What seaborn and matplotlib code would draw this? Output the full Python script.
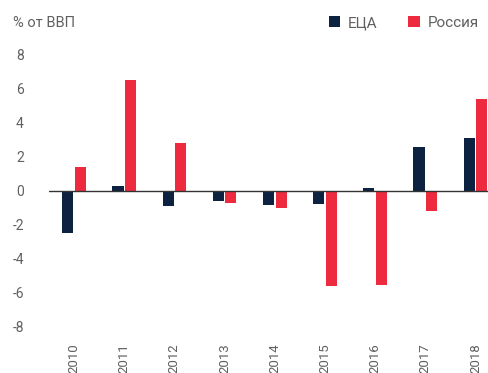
import matplotlib
matplotlib.use("Agg")
import matplotlib.pyplot as plt
from matplotlib.patches import Patch
import seaborn as sns
import pandas as pd

years = ["2010", "2011", "2012", "2013", "2014", "2015", "2016", "2017", "2018"]
eca = [-2.5, 0.25, -0.9, -0.6, -0.85, -0.8, 0.12, 2.55, 3.1]
russia = [1.4, 6.5, 2.8, -0.75, -1.05, -5.65, -5.55, -1.2, 5.4]
series = ["ЕЦА", "Россия"]
colors = ["#0c2240", "#ee2b3e"]
y_ticks = [-8, -6, -4, -2, 0, 2, 4, 6, 8]

df = pd.DataFrame({
    "year": years * 2,
    "value": eca + russia,
    "series": [series[0]] * len(years) + [series[1]] * len(years),
})

sns.set_theme(style="white")
plt.rcParams["font.family"] = ["Roboto", "DejaVu Sans"]
text_color = "#606060"

fig = plt.figure(figsize=(4.88, 3.73), dpi=100)
ax = fig.add_axes([49 / 488, (373 - 326) / 373, 439 / 488, 271 / 373])

sns.barplot(data=df, x="year", y="value", hue="series", order=years,
            hue_order=series, palette=colors, saturation=1, width=0.5, gap=0.12,
            linewidth=0, legend=False, ax=ax)

ax.axhline(0, color="#333333", lw=1, zorder=3)
ax.set_xlim(-0.5, 8.25)
ax.set_ylim(-8, 8)
ax.set_yticks(y_ticks)
ax.set_yticklabels([str(t) for t in y_ticks])
ax.set_xticks(range(len(years)))
ax.set_xticklabels(years, rotation=90, va="top", ha="center")
ax.set_xlabel("")
ax.set_ylabel("")
for s in ax.spines.values():
    s.set_visible(False)
ax.tick_params(axis="y", length=0, pad=18, labelsize=10, labelcolor=text_color)
ax.tick_params(axis="x", length=0, pad=12.5, labelsize=9.5, labelcolor=text_color)

fig.text(13 / 488, 1 - 23 / 373, "% от ВВП", fontsize=10.5, color=text_color,
         ha="left", va="center")

handles = [Patch(facecolor=c, edgecolor="none", label=s) for c, s in zip(colors, series)]
fig.legend(handles=handles, loc="center right", bbox_to_anchor=(0.99, 1 - 23 / 373),
           ncol=2, frameon=False, fontsize=11, labelcolor=text_color,
           handlelength=0.75, handleheight=0.75, handletextpad=0.5,
           columnspacing=2.0, borderaxespad=0, borderpad=0.3)

fig.savefig("out.png", dpi=100)
